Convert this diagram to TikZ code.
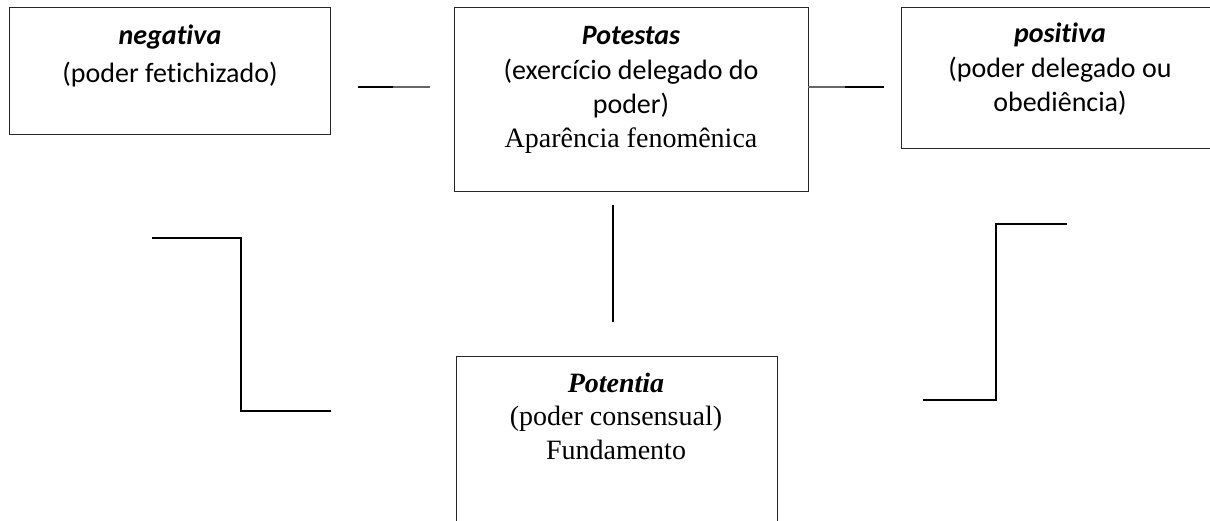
\documentclass[tikz,border=0pt]{standalone}
\usepackage{fontspec}
\newfontfamily\calfnt[Ligatures={NoCommon}]{Carlito}
\newfontfamily\tnrfnt{Liberation Serif}
\begin{document}
\begin{tikzpicture}[x=1pt,y=-1pt,
  box/.style={draw=black!85, line width=1.3pt, rectangle, inner sep=0pt},
  conn/.style={draw=black, line width=1.8pt},
  txt/.style={anchor=base, inner sep=0pt},
  cs/.style={txt, font=\calfnt\fontsize{28}{34}\selectfont},
  csb/.style={txt, font=\calfnt\bfseries\itshape\fontsize{28}{34}\selectfont},
  ts/.style={txt, font=\tnrfnt\fontsize{28}{34}\selectfont},
  tsb/.style={txt, font=\tnrfnt\bfseries\itshape\fontsize{28}{34}\selectfont}]
\clip (0,0) rectangle (1210,521);
\useasboundingbox (0,0) rectangle (1210,521);
% boxes
\node[box, minimum width=321pt, minimum height=127pt, anchor=north west] (neg) at (9,7) {};
\node[box, minimum width=354pt, minimum height=184pt, anchor=north west] (pot) at (454,7) {};
\node[box, minimum width=318pt, minimum height=141pt, anchor=north west] (pos) at (901,7) {};
\node[box, minimum width=321pt, minimum height=200pt, anchor=north west] (ptn) at (456,356) {};
% texts
\node[csb] (t1) at (170,45) {negativa};
\node[cs] (t2) at (170,83) {(poder fetichizado)};
\node[csb] (t3) at (631,45) {Potestas};
\node[cs] (t4) at (631,80) {(exercício delegado do};
\node[cs] (t5) at (631,114) {poder)};
\node[ts] (t6) at (631,148) {Aparência fenomênica};
\node[csb] (t7) at (1060,43) {positiva};
\node[cs] (t8) at (1060,78) {(poder delegado ou};
\node[cs] (t9) at (1060,112) {obediência)};
\node[tsb] (t10) at (616,392) {Potentia};
\node[ts] (t11) at (616,425) {(poder consensual)};
\node[ts] (t12) at (616,459) {Fundamento};
% connector coordinates
\coordinate (a1) at (358,87); \coordinate (a2) at (393,87); \coordinate (a3) at (430,87);
\coordinate (b1) at (808,87); \coordinate (b2) at (845,87); \coordinate (b3) at (884,87);
\coordinate (c1) at (613,205); \coordinate (c2) at (613,322);
\coordinate (l1) at (152,238); \coordinate (l2) at (241,238); \coordinate (l3) at (241,411); \coordinate (l4) at (331,411);
\coordinate (r1) at (923,400); \coordinate (r2) at (996,400); \coordinate (r3) at (996,224); \coordinate (r4) at (1067,224);
% connectors
\draw[conn] (a1) -- (a2);
\draw[conn, draw=black!60] (a2) -- (a3);
\draw[conn, draw=black!60] (b1) -- (b2);
\draw[conn] (b2) -- (b3);
\draw[conn] (c1) -- (c2);
\draw[conn] (l1) -- (l2) -- (l3) -- (l4);
\draw[conn] (r1) -- (r2) -- (r3) -- (r4);
\end{tikzpicture}
\end{document}
